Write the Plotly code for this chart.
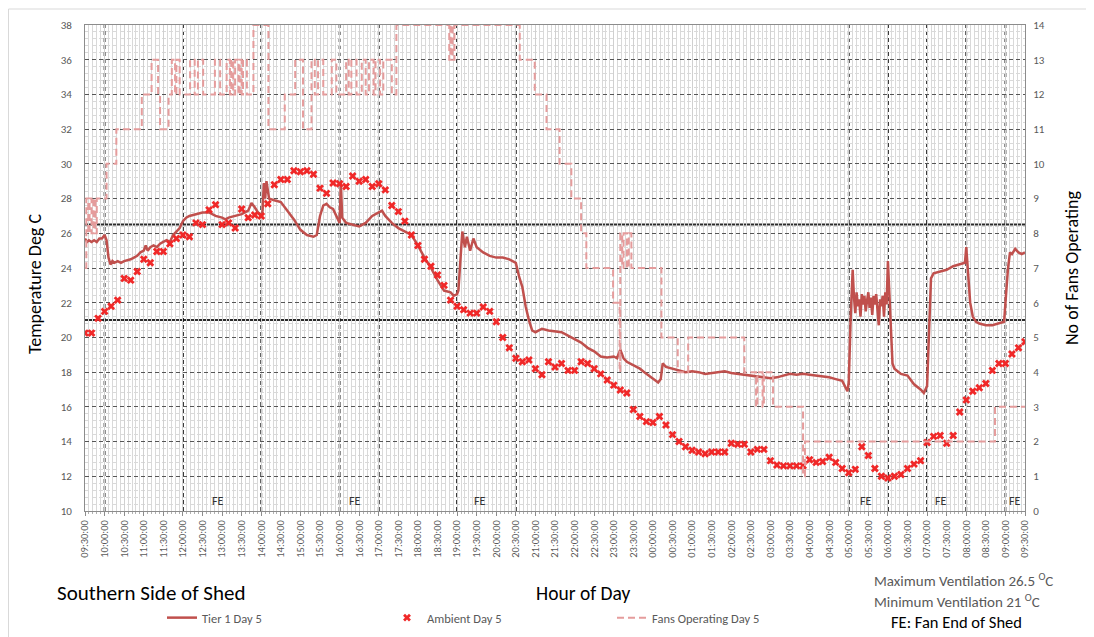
import plotly.graph_objects as go
import pandas as pd

# ---------------- DATA ----------------
# Tier 1 (Day 5) temperature, deg C
tier1_time = [
    "09:30", "09:33", "09:36", "09:40", "09:44", "09:48", "09:52", "09:56",
    "10:00", "10:03", "10:06", "10:09", "10:12", "10:15", "10:20", "10:25", "10:30", "10:35", "10:40", "10:45", "10:50", "10:55",
    "11:00", "11:03", "11:06", "11:10", "11:15", "11:20", "11:25", "11:30", "11:35", "11:40", "11:45", "11:50", "11:55",
    "12:00", "12:05", "12:10", "12:20", "12:30", "12:40", "12:50",
    "13:00", "13:05", "13:10", "13:20", "13:30", "13:40", "13:45", "13:50", "13:55",
    "14:00", "14:02", "14:04", "14:06", "14:08", "14:12", "14:20", "14:30", "14:40", "14:50",
    "15:00", "15:10", "15:20", "15:25", "15:30", "15:35", "15:40", "15:45", "15:50", "15:55",
    "16:00", "16:02", "16:04", "16:10", "16:20", "16:30", "16:40", "16:50",
    "17:00", "17:05", "17:10", "17:20", "17:30", "17:40", "17:50",
    "18:00", "18:10", "18:20", "18:30", "18:40", "18:50", "18:55",
    "19:00", "19:02", "19:05", "19:08", "19:12", "19:15", "19:20", "19:25", "19:30", "19:40", "19:50",
    "20:00", "20:10", "20:20", "20:30", "20:35", "20:40", "20:45", "20:50", "20:55",
    "21:00", "21:10", "21:20", "21:30", "21:40", "21:50",
    "22:00", "22:10", "22:20", "22:30", "22:40", "22:50",
    "23:00", "23:05", "23:10", "23:15", "23:20", "23:30", "23:40", "23:50",
    "00:00", "00:08", "00:12", "00:15", "00:20", "00:30", "00:40", "00:50",
    "01:00", "01:10", "01:20", "01:30", "01:40", "01:50",
    "02:00", "02:10", "02:20", "02:30", "02:40", "02:50",
    "03:00", "03:10", "03:20", "03:30", "03:40", "03:50",
    "04:00", "04:10", "04:20", "04:30", "04:40", "04:50", "04:58",
    "05:00", "05:03", "05:06", "05:08", "05:10", "05:12", "05:14", "05:16", "05:18", "05:20", "05:22", "05:24",
    "05:26", "05:28", "05:30", "05:32", "05:34", "05:36", "05:38", "05:40", "05:42", "05:44", "05:46", "05:48",
    "05:50", "05:52", "05:54", "05:56", "05:58",
    "06:00", "06:03", "06:07", "06:10", "06:20", "06:30", "06:40", "06:50", "06:55",
    "07:00", "07:03", "07:06", "07:10", "07:20", "07:30", "07:40", "07:50", "07:58",
    "08:00", "08:03", "08:06", "08:10", "08:15", "08:20", "08:30", "08:40", "08:50", "08:58",
    "09:01", "09:04", "09:07", "09:10", "09:15", "09:20", "09:25", "09:30",
]
tier1_temp = [
    25.7, 25.5, 25.6, 25.5, 25.6, 25.5, 25.7, 25.7,
    25.9, 25.6, 24.6, 24.2, 24.4, 24.3, 24.4, 24.3, 24.4, 24.45, 24.5, 24.6, 24.7, 24.9,
    25.0, 25.3, 25.0, 25.2, 25.3, 25.2, 25.4, 25.5, 25.6, 25.5, 25.9, 26.1, 26.3,
    26.7, 26.9, 27.0, 27.1, 27.2, 27.2, 27.0,
    26.9, 26.8, 26.9, 27.0, 27.1, 27.3, 27.75, 27.5, 27.2,
    27.0, 27.3, 28.9, 28.0, 29.0, 28.0, 27.9, 27.8, 27.3, 26.8,
    26.2, 25.9, 25.8, 25.9, 27.0, 27.6, 27.7, 27.5, 27.4, 27.0,
    26.6, 28.9, 26.9, 26.6, 26.5, 26.4, 26.6, 27.0,
    27.2, 27.3, 27.0, 26.6, 26.3, 26.1, 25.9,
    25.3, 24.6, 24.0, 23.3, 22.7, 22.6, 22.4,
    22.5, 22.7, 24.5, 26.1, 25.2, 25.8, 25.0, 25.7, 25.2, 24.9, 24.7,
    24.6, 24.6, 24.5, 24.3, 23.5, 22.9, 21.8, 21.0, 20.4,
    20.3, 20.5, 20.4, 20.35, 20.3, 20.1,
    19.9, 19.7, 19.4, 19.2, 18.9, 18.85,
    18.9, 18.8, 19.3, 18.8, 18.6, 18.4, 18.2, 17.9,
    17.6, 17.4, 17.6, 18.5, 18.3, 18.2, 18.1, 18.0,
    18.05, 18.0, 17.9, 17.95, 18.0, 18.05,
    17.95, 17.9, 17.85, 17.8, 17.75, 17.7,
    17.65, 17.7, 17.8, 17.9, 17.85, 17.9,
    17.85, 17.8, 17.75, 17.7, 17.6, 17.5, 16.9,
    17.4, 21.2, 23.9, 22.3, 21.4, 22.6, 21.8, 22.2, 21.2, 22.5, 21.9, 22.4,
    21.5, 22.1, 22.6, 21.7, 22.3, 21.3, 22.4, 21.9, 22.5, 21.6, 20.7, 22.2,
    21.8, 22.4, 21.2, 22.6, 21.9,
    24.4, 22.0, 18.5, 18.2, 17.9, 17.8, 17.3, 17.0, 16.8,
    17.2, 21.0, 23.4, 23.7, 23.8, 23.9, 24.1, 24.2, 24.3,
    25.2, 23.5, 22.0, 21.2, 20.9, 20.8, 20.7, 20.7, 20.8, 20.9,
    22.5, 24.0, 24.9, 24.8, 25.1, 24.9, 24.8, 24.9,
]

# Ambient (Day 5), one reading every 10 minutes from 09:30 to 09:30 next day
ambient_start = "09:30"
ambient_step_min = 10
ambient_temp = [
    20.25, 20.25, 21.1,
    21.5, 21.8, 22.15, 23.4, 23.3, 23.8,
    24.5, 24.3, 24.95, 24.95, 25.4, 25.7,
    25.9, 25.8, 26.6, 26.5, 27.35, 27.65,
    26.5, 26.6, 26.3, 27.4, 26.9, 27.05,
    27.0, 27.7, 28.8, 29.1, 29.1, 29.6,
    29.55, 29.6, 29.4, 28.6, 28.3, 28.9,
    28.85, 28.7, 29.3, 29.0, 29.1, 28.7,
    28.85, 28.5, 27.6, 27.25, 26.7, 25.9,
    25.3, 24.5, 24.1, 23.6, 23.0, 22.15,
    21.8, 21.6, 21.4, 21.4, 21.75, 21.5,
    20.9, 20.0, 19.4, 18.8, 18.6, 18.7,
    18.2, 17.85, 18.6, 18.3, 18.5, 18.1,
    18.1, 18.6, 18.5, 18.2, 17.9, 17.55,
    17.25, 16.97, 16.8, 15.85, 15.44, 15.15,
    15.1, 15.44, 14.95, 14.4, 14.0, 13.7,
    13.5, 13.4, 13.3, 13.4, 13.4, 13.4,
    13.9, 13.85, 13.85, 13.4, 13.55, 13.55,
    12.9, 12.65, 12.6, 12.6, 12.6, 12.6,
    12.95, 12.8, 12.85, 13.1, 12.8, 12.45,
    12.2, 12.4, 13.7, 13.2, 12.45, 12.0,
    11.9, 12.0, 12.1, 12.45, 12.7, 12.9,
    13.95, 14.3, 14.35, 13.9, 14.35, 15.7,
    16.4, 16.9, 17.1, 17.35, 18.1, 18.5,
    18.5, 19.05, 19.4, 19.75,
]

# Fans operating (Day 5), step changes
fans_time = [
    "09:30", "09:32", "09:35", "09:37", "09:40", "09:43", "09:46", "09:48",
    "10:03", "10:18", "10:57", "11:12", "11:22", "11:25", "11:38", "11:43", "11:48", "11:50", "11:55",
    "12:11", "12:18", "12:23", "12:31", "12:49", "12:57",
    "13:07", "13:12", "13:14", "13:17", "13:20", "13:25", "13:27", "13:30", "13:32", "13:38", "13:48",
    "14:11", "14:36", "14:52", "15:04", "15:17", "15:22", "15:27", "15:35", "15:48", "15:55",
    "16:10", "16:14", "16:18", "16:26", "16:34", "16:40", "16:45", "16:52", "16:55",
    "17:02", "17:07", "17:20", "17:27", "18:48", "18:50", "18:53", "18:56",
    "20:36", "20:59", "21:17", "21:37", "21:55", "22:10", "22:18", "22:59",
    "23:09", "23:10", "23:13", "23:15", "23:20", "23:23", "23:27",
    "00:13", "00:38", "00:54", "02:20", "02:38", "02:40", "02:48", "02:50",
    "03:04", "03:50", "03:53", "08:44", "09:30",
]
fans_count = [
    7, 9, 8, 9, 8, 9, 8, 9,
    10, 11, 12, 13, 12, 11, 12, 13, 12, 13, 12,
    13, 12, 13, 12, 13, 12,
    13, 12, 13, 12, 13, 12, 13, 12, 13, 12, 14,
    11, 12, 13, 11, 13, 12, 13, 12, 13, 12,
    13, 12, 13, 12, 13, 12, 13, 12, 13,
    12, 13, 12, 14, 13, 14, 13, 14,
    13, 12, 11, 10, 9, 8, 7, 6,
    4, 8, 7, 8, 7, 8, 7,
    5, 4, 5, 4, 3, 4, 3, 4,
    3, 1, 2, 3, 3,
]

# Fan-end (FE) marker lines and labels
fe_line_time = ["10:00", "12:00", "14:00", "16:00", "17:00", "19:00", "20:30",
                "05:00", "06:00", "07:00", "08:00", "09:00"]
fe_label_time = ["12:54", "16:23", "19:35", "05:27", "07:22", "09:14"]
max_ventilation = 26.5
min_ventilation = 21

assert len(tier1_time) == len(tier1_temp)
assert len(fans_time) == len(fans_count)
assert len(ambient_temp) == 145

# ---------------- HELPERS ----------------
BASE = pd.Timestamp("2024-01-01")


def to_dt(times):
    out, day, prev = [], 0, None
    for t in times:
        h, m = map(int, t.split(":"))
        mins = h * 60 + m
        if prev is not None and mins < prev:
            day += 1
        prev = mins
        out.append(BASE + pd.Timedelta(days=day, minutes=mins))
    return out


h0, m0 = map(int, ambient_start.split(":"))
x_start = BASE + pd.Timedelta(hours=h0, minutes=m0)
x_end = x_start + pd.Timedelta(days=1)
ambient_dt = list(pd.date_range(x_start, periods=len(ambient_temp), freq=f"{ambient_step_min}min"))

FONT = "Carlito, Lato, 'Open Sans', sans-serif"
GREY = "#595959"

# page body has an 8px margin; figure is offset by 8px in the window
W, H = 1086, 637
ML, MR, MT = 77, 69, 17
PW = W - ML - MR   # 940
PH = 486
MB = H - MT - PH   # 134


def px(xs):   # screen x (px) -> paper x
    return (xs - 8 - ML) / PW


def py(ys):   # screen y (px) -> paper y
    return (H - MB - (ys - 8)) / PH


# ---------------- FIGURE ----------------
fig = go.Figure()
fig.add_trace(go.Scatter(
    x=to_dt(tier1_time), y=tier1_temp, mode="lines", name="Tier 1 Day 5",
    line=dict(color="#C0504D", width=2.5)))
fig.add_trace(go.Scatter(
    x=ambient_dt, y=ambient_temp, mode="markers", name="Ambient Day 5",
    marker=dict(symbol="x", size=7, color="#F02828")))
fig.add_trace(go.Scatter(
    x=to_dt(fans_time), y=fans_count, mode="lines", name="Fans Operating Day 5",
    line=dict(color="#E59C9C", width=2, dash="7px,4px", shape="hv"), yaxis="y2",
    cliponaxis=False))

shapes = []
for yv in (max_ventilation, min_ventilation):
    shapes.append(dict(type="line", xref="paper", x0=0, x1=1, yref="y", y0=yv, y1=yv,
                       line=dict(color="#2b2b2b", width=2), layer="between"))
for t in to_dt(fe_line_time):
    shapes.append(dict(type="line", xref="x", x0=t, x1=t, yref="paper", y0=0, y1=1,
                       line=dict(color="#111111", width=1.8, dash="4px,3px"), layer="between"))
# outer chart frame (left and top)
shapes.append(dict(type="line", xref="paper", yref="paper", x0=px(8.5), x1=px(8.5), y0=py(637), y1=py(9),
                   line=dict(color="#d9d9d9", width=1)))
shapes.append(dict(type="line", xref="paper", yref="paper", x0=px(8.5), x1=px(1093), y0=py(9), y1=py(9),
                   line=dict(color="#d9d9d9", width=1)))


def note(x, y, text, size, color, xanchor="center", angle=0):
    return dict(x=px(x), y=py(y), xref="paper", yref="paper", text=text, textangle=angle,
                xanchor=xanchor, yanchor="middle", showarrow=False,
                font=dict(size=size, color=color, family=FONT))


annotations = []
for t in to_dt(fe_label_time):
    annotations.append(dict(x=t, y=10.05, xref="x", yref="y", text="FE", showarrow=False,
                            xanchor="center", yanchor="bottom",
                            font=dict(size=12, color="#333333", family=FONT)))
annotations += [
    note(35, 284, "Temperature Deg C", 18, "black", angle=-90),
    note(1072, 268, "No of Fans Operating", 18, "black", angle=-90),
    note(55, 593, "Southern Side of Shed", 21, "black", xanchor="left"),
    note(583, 593, "Hour of Day", 19.5, "black"),
    note(872, 580, "Maximum Ventilation 26.5 <sup>O</sup>C", 15, GREY, xanchor="left"),
    note(872, 601, "Minimum Ventilation 21 <sup>O</sup>C", 15, GREY, xanchor="left"),
    note(889, 622, "FE: Fan End of Shed", 16.5, "black", xanchor="left"),
]

fig.update_layout(
    width=W, height=H,
    margin=dict(l=ML, r=MR, t=MT, b=MB),
    paper_bgcolor="white", plot_bgcolor="white",
    font=dict(family=FONT, color=GREY),
    shapes=shapes, annotations=annotations,
    showlegend=True,
    legend=dict(orientation="h", x=px(162), y=py(618), xanchor="left", yanchor="middle",
                entrywidth=180, entrywidthmode="pixels",
                font=dict(size=12.5, color=GREY, family=FONT), bgcolor="rgba(0,0,0,0)"),
    xaxis=dict(
        type="date", range=[x_start, x_end], tickformat="%H:%M:%S", dtick=1800000, tick0=x_start,
        tickangle=-90, tickfont=dict(size=10.5, color=GREY), automargin=False,
        ticks="outside", ticklen=4, tickcolor="#8c8c8c",
        showline=True, linecolor="#8c8c8c", linewidth=1, mirror=True,
        showgrid=True, gridcolor="#d0d0d0", gridwidth=1,
        minor=dict(dtick=360000, showgrid=True, gridcolor="#d9d9d9", gridwidth=1,
                   ticks="outside", ticklen=2, tickcolor="#b0b0b0"),
    ),
    yaxis=dict(
        range=[10, 38], dtick=2, tickfont=dict(size=11, color=GREY), ticklabelstandoff=10,
        automargin=False,
        showline=True, linecolor="#8c8c8c", mirror=True, zeroline=False,
        showgrid=True, gridcolor="#555555", griddash="4px,3px", gridwidth=1,
        minor=dict(dtick=0.4, showgrid=True, gridcolor="#d9d9d9", gridwidth=1),
    ),
    yaxis2=dict(
        range=[0, 14], dtick=1, overlaying="y", side="right", showgrid=False, zeroline=False,
        tickfont=dict(size=11, color=GREY), ticklabelstandoff=5, automargin=False,
        showline=True, linecolor="#8c8c8c",
    ),
)

fig.write_html("out.html")
